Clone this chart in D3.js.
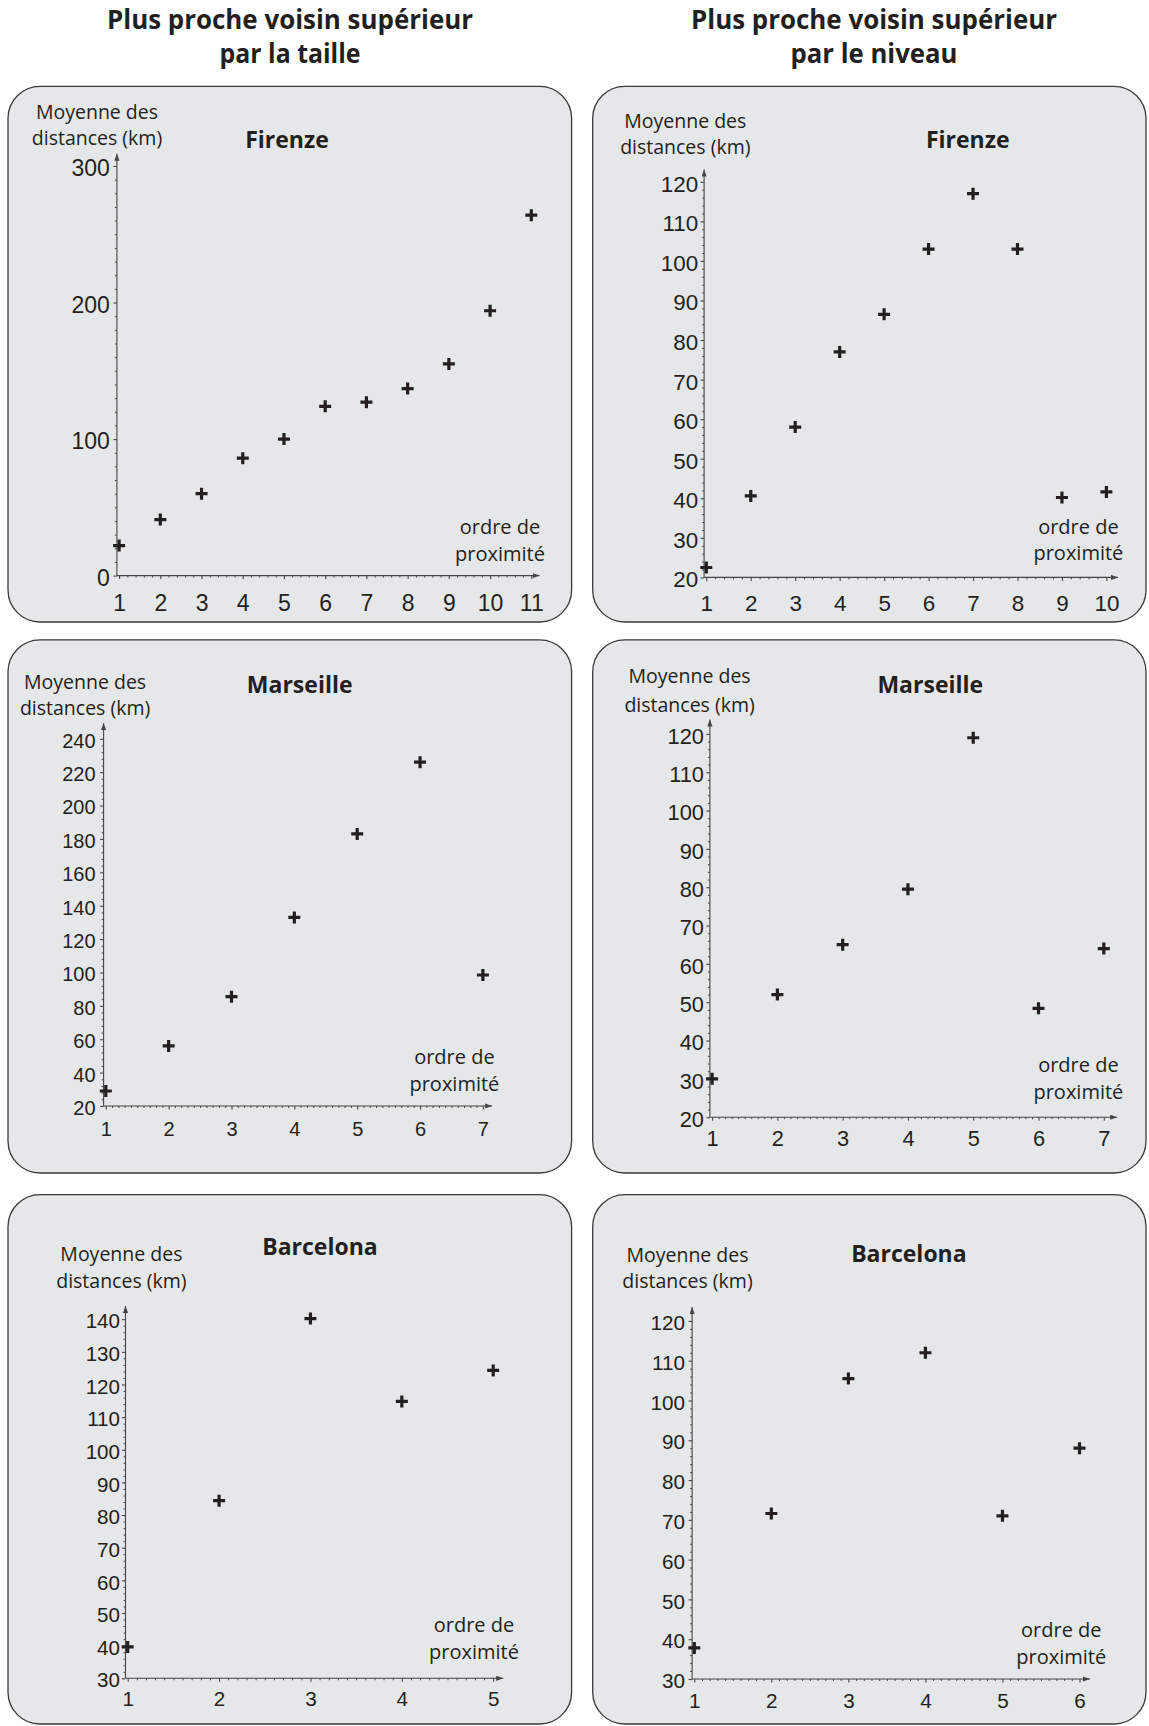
<!DOCTYPE html>
<html><head><meta charset="utf-8">
<script src="https://cdn.jsdelivr.net/npm/d3@7"></script>
<style>body{margin:0;background:#fff} svg{display:block}</style>
</head><body>
<svg id="chart" width="1149" height="1726"></svg>
<script>
// ---------------- data ----------------
const columnTitles = [["Plus proche voisin supérieur", "par la taille"], ["Plus proche voisin supérieur", "par le niveau"]];
const yAxisLabel = ["Moyenne des", "distances (km)"];
const xAxisLabel = ["ordre de", "proximité"];

const firenzeTailleOrdre = [1, 2, 3, 4, 5, 6, 7, 8, 9, 10, 11];
const firenzeTailleDist  = [22, 41, 60, 86, 100, 124, 127, 137, 155, 194, 264];
const firenzeTailleTicks = [0, 100, 200, 300];

const firenzeNiveauOrdre = [1, 2, 3, 4, 5, 6, 7, 8, 9, 10];
const firenzeNiveauDist  = [22.5, 40.6, 58, 77, 86.5, 103, 117, 103, 40.2, 41.6];
const firenzeNiveauTicks = [20, 30, 40, 50, 60, 70, 80, 90, 100, 110, 120];

const marseilleTailleOrdre = [1, 2, 3, 4, 5, 6, 7];
const marseilleTailleDist  = [29, 56, 85.5, 133, 183, 226, 98.5];
const marseilleTailleTicks = [20, 40, 60, 80, 100, 120, 140, 160, 180, 200, 220, 240];

const marseilleNiveauOrdre = [1, 2, 3, 4, 5, 6, 7];
const marseilleNiveauDist  = [30, 52, 65, 79.5, 119, 48.4, 64];
const marseilleNiveauTicks = [20, 30, 40, 50, 60, 70, 80, 90, 100, 110, 120];

const barcelonaTailleOrdre = [1, 2, 3, 4, 5];
const barcelonaTailleDist  = [39.6, 84.4, 140.2, 114.8, 124.3];
const barcelonaTailleTicks = [30, 40, 50, 60, 70, 80, 90, 100, 110, 120, 130, 140];

const barcelonaNiveauOrdre = [1, 2, 3, 4, 5, 6];
const barcelonaNiveauDist  = [37.8, 71.6, 105.5, 112, 71, 88];
const barcelonaNiveauTicks = [30, 40, 50, 60, 70, 80, 90, 100, 110, 120];

const panels = [
  {city: "Firenze",   ordre: firenzeTailleOrdre,   dist: firenzeTailleDist,   ticks: firenzeTailleTicks,   xMinor: 0.2, yMinor: 10},
  {city: "Firenze",   ordre: firenzeNiveauOrdre,   dist: firenzeNiveauDist,   ticks: firenzeNiveauTicks,   xMinor: 0.2, yMinor: 2},
  {city: "Marseille", ordre: marseilleTailleOrdre, dist: marseilleTailleDist, ticks: marseilleTailleTicks, xMinor: 0.1, yMinor: 4},
  {city: "Marseille", ordre: marseilleNiveauOrdre, dist: marseilleNiveauDist, ticks: marseilleNiveauTicks, xMinor: 0.1, yMinor: 2},
  {city: "Barcelona", ordre: barcelonaTailleOrdre, dist: barcelonaTailleDist, ticks: barcelonaTailleTicks, xMinor: 0.1, yMinor: 2},
  {city: "Barcelona", ordre: barcelonaNiveauOrdre, dist: barcelonaNiveauDist, ticks: barcelonaNiveauTicks, xMinor: 0.1, yMinor: 2}
];

// ---------------- layout (pixels) ----------------
const layouts = [
  {box:[8,86.3,571.6,622],    xr:[119.1,531.3],  yr:[575.6,166],    xEnd:539.5,  yTop:153.7, fs:23,   xOff:27.4, gap:7,
   yl:[97,112,138],      city:[287,140],      ol:[500,526.5,554]},
  {box:[592.7,86.3,1146,622], xr:[706.3,1106.4], yr:[577.4,181.8],  xEnd:1118,   yTop:169.5, fs:22.4, xOff:25.6, gap:6,
   yl:[685.3,121.4,146.7], city:[967.7,139.7], ol:[1078.4,526.5,552.8]},
  {box:[8,639.8,571.6,1173],  xr:[105.8,482.9],  yr:[1106,738.8],   xEnd:492.1,  yTop:723,   fs:20,   xOff:22.4, gap:8,
   yl:[85.1,682,708],    city:[299.7,684.4],  ol:[454.4,1056.5,1083.5]},
  {box:[592.7,639.8,1146,1173], xr:[712.1,1103.8], yr:[1117.2,733.9], xEnd:1117.2, yTop:719.5, fs:21.8, xOff:21, gap:6,
   yl:[689.6,676.3,705.5], city:[930.3,684.4], ol:[1078.4,1064.5,1091.6]},
  {box:[8,1194.6,571.6,1724], xr:[127.7,493.2],  yr:[1678.3,1319.2], xEnd:503.2, yTop:1306,  fs:20.6, xOff:20.2, gap:5.5,
   yl:[121.4,1254.1,1281], city:[320,1246.8],  ol:[474,1625.4,1652.2]},
  {box:[592.7,1194.6,1146,1724], xr:[694.3,1079.5], yr:[1679,1320.9], xEnd:1090, yTop:1307, fs:20.7, xOff:22, gap:7,
   yl:[687.5,1254.8,1281.6], city:[908.9,1253.8], ol:[1061.3,1629.6,1656.8]}
];
const headLayout = [{cx:290, w:[366,141]}, {cx:874, w:[366,167]}];

const INK = "#231f20", AXIS = "#454545";
const TEXT_FONT = "'Open Sans', 'Noto Sans', sans-serif";
const NUM_FONT = "'Liberation Sans', Arial, sans-serif";

const svg = d3.select("#chart");
svg.append("rect").attr("width", 1149).attr("height", 1726).attr("fill", "#fff");

const defs = svg.append("defs");
defs.append("marker").attr("id", "arrow").attr("markerUnits", "userSpaceOnUse")
  .attr("markerWidth", 8).attr("markerHeight", 6).attr("refX", 7).attr("refY", 2.6).attr("orient", "auto")
  .append("path").attr("d", "M0,0L7,2.6L0,5.2Z").attr("fill", AXIS);

// column titles
columnTitles.forEach((lines, c) => {
  const H = headLayout[c];
  lines.forEach((t, i) => {
    svg.append("text").attr("x", H.cx).attr("y", i === 0 ? 29 : 63)
      .attr("text-anchor", "middle").attr("font-family", TEXT_FONT).attr("font-weight", 700)
      .attr("font-size", 26).attr("fill", INK)
      .attr("textLength", H.w[i]).attr("lengthAdjust", "spacingAndGlyphs").text(t);
  });
});

panels.forEach((P, k) => {
  const L = layouts[k];
  const g = svg.append("g");
  g.append("rect").attr("x", L.box[0]).attr("y", L.box[1])
    .attr("width", L.box[2] - L.box[0]).attr("height", L.box[3] - L.box[1])
    .attr("rx", 32).attr("ry", 32).attr("fill", "#e6e7e8").attr("stroke", "#3a3a3a").attr("stroke-width", 1.3);

  const nMax = P.ordre[P.ordre.length - 1];
  const yMin = P.ticks[0], yMax = P.ticks[P.ticks.length - 1];
  const x = d3.scaleLinear().domain([1, nMax]).range(L.xr);
  const y = d3.scaleLinear().domain([yMin, yMax]).range(L.yr);
  const ax = L.xr[0] - 2.2;  // vertical axis position
  const ay = y(yMin);        // horizontal axis position

  // minor ticks
  const xm = d3.range(1, nMax + 1e-9, P.xMinor).filter(v => Math.abs(v - Math.round(v)) > 1e-6);
  const ym = d3.range(yMin, yMax + 1e-9, P.yMinor).filter(v => !P.ticks.some(t => Math.abs(t - v) < 1e-6));
  g.append("g").attr("transform", `translate(0,${ay})`)
    .call(d3.axisBottom(x).tickValues(xm).tickSize(2).tickSizeOuter(0).tickFormat(""))
    .call(s => { s.select(".domain").remove(); s.selectAll("line").attr("stroke", AXIS).attr("stroke-width", 1); });
  g.append("g").attr("transform", `translate(${ax},0)`)
    .call(d3.axisLeft(y).tickValues(ym).tickSize(2).tickSizeOuter(0).tickFormat(""))
    .call(s => { s.select(".domain").remove(); s.selectAll("line").attr("stroke", AXIS).attr("stroke-width", 1); });

  // major ticks + labels
  g.append("g").attr("transform", `translate(0,${ay})`)
    .call(d3.axisBottom(x).tickValues(P.ordre).tickSize(3.5).tickSizeOuter(0).tickFormat(d3.format("d")))
    .call(s => {
      s.select(".domain").remove();
      s.selectAll("line").attr("stroke", AXIS).attr("stroke-width", 1.1);
      s.selectAll("text").attr("y", L.xOff).attr("dy", "0.36em").attr("fill", INK)
        .attr("font-family", NUM_FONT).attr("font-size", L.fs);
    });
  g.append("g").attr("transform", `translate(${ax},0)`)
    .call(d3.axisLeft(y).tickValues(P.ticks).tickSize(3.5).tickSizeOuter(0).tickFormat(d3.format("d")))
    .call(s => {
      s.select(".domain").remove();
      s.selectAll("line").attr("stroke", AXIS).attr("stroke-width", 1.1);
      s.selectAll("text").attr("x", -L.gap).attr("dy", "0.42em").attr("fill", INK)
        .attr("font-family", NUM_FONT).attr("font-size", L.fs);
    });

  // axis lines with arrows
  g.append("line").attr("x1", ax).attr("y1", ay).attr("x2", L.xEnd).attr("y2", ay)
    .attr("stroke", AXIS).attr("stroke-width", 1.1).attr("marker-end", "url(#arrow)");
  g.append("line").attr("x1", ax).attr("y1", ay).attr("x2", ax).attr("y2", L.yTop)
    .attr("stroke", AXIS).attr("stroke-width", 1.1).attr("marker-end", "url(#arrow)");

  // text labels
  yAxisLabel.forEach((t, i) => {
    g.append("text").attr("x", L.yl[0]).attr("y", L.yl[1 + i]).attr("dy", "0.35em")
      .attr("text-anchor", "middle").attr("font-family", TEXT_FONT).attr("font-size", 19.5)
      .attr("fill", INK).text(t);
  });
  xAxisLabel.forEach((t, i) => {
    g.append("text").attr("x", L.ol[0]).attr("y", L.ol[1 + i]).attr("dy", "0.35em")
      .attr("text-anchor", "middle").attr("font-family", TEXT_FONT).attr("font-size", 20)
      .attr("fill", INK).text(t);
  });
  g.append("text").attr("x", L.city[0]).attr("y", L.city[1]).attr("dy", "0.36em")
    .attr("text-anchor", "middle").attr("font-family", TEXT_FONT).attr("font-weight", 700)
    .attr("font-size", 23).attr("fill", INK).text(P.city);

  // data points (crosses)
  g.selectAll("path.pt").data(P.ordre.map((o, i) => [o, P.dist[i]])).join("path")
    .attr("class", "pt")
    .attr("transform", d => `translate(${x(d[0])},${y(d[1])})`)
    .attr("d", "M-6,0H6M0,-6V6")
    .attr("stroke", INK).attr("stroke-width", 3.2).attr("fill", "none");
});
</script>
</body></html>
